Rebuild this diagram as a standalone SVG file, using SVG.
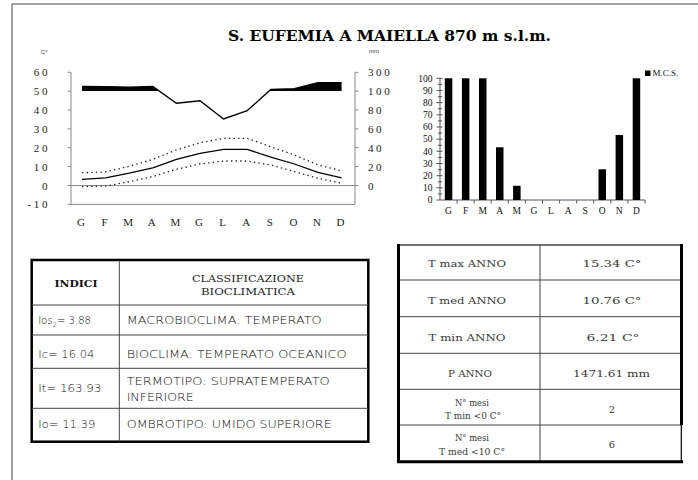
<svg xmlns="http://www.w3.org/2000/svg" width="698" height="480" viewBox="0 0 698 480">
<defs>
<style>
.ax{stroke:#8a8a8a;stroke-width:1;fill:none}
.tk{stroke:#8a8a8a;stroke-width:1}
.num{font-family:"Liberation Serif",serif;font-size:11px;fill:#222;letter-spacing:2.6px}
.mon{font-family:"Liberation Serif",serif;font-size:11px;fill:#222}
.bnum{font-family:"Liberation Serif",serif;font-size:9.5px;fill:#111;text-anchor:end}
.bmon{font-family:"Liberation Serif",serif;font-size:9.5px;fill:#111;text-anchor:middle}
.cell{font-family:"DejaVu Sans",sans-serif;font-weight:200;font-size:10px;fill:#111}
.cell2{font-family:"DejaVu Serif",serif;font-size:10px;fill:#3a3a3a;text-anchor:middle}
.hd{font-family:"DejaVu Serif",serif;font-size:9px;fill:#222;text-anchor:middle}
.tl{stroke:#444;stroke-width:1}
.dot{fill:none;stroke:#222;stroke-width:1.3;stroke-dasharray:1.4 3.2}
</style>
<clipPath id="above100"><rect x="60" y="60" width="300" height="31"/></clipPath>
</defs>

<path d="M12,480 V4 H698" fill="none" stroke="#444" stroke-width="1"/>

<g id="title">
<text x="228" y="41" font-family="DejaVu Serif,serif" font-weight="bold" font-size="15.5" textLength="323" lengthAdjust="spacingAndGlyphs" fill="#000">S. EUFEMIA A MAIELLA 870 m s.l.m.</text>
</g>

<g id="chart-climate">
<text x="41" y="54" font-family="Liberation Sans,sans-serif" font-size="6" fill="#333">C°</text>
<text x="369" y="53" font-family="Liberation Sans,sans-serif" font-size="6" fill="#333">mm</text>
<path class="ax" d="M71,72.3 V204.4 H355 V72.3"/>
<line class="ax" x1="71" y1="185.5" x2="355" y2="185.5"/>
<g class="tk">
<line x1="67.5" y1="72.3" x2="71" y2="72.3"/><line x1="67.5" y1="91.2" x2="71" y2="91.2"/><line x1="67.5" y1="110" x2="71" y2="110"/><line x1="67.5" y1="128.9" x2="71" y2="128.9"/><line x1="67.5" y1="147.7" x2="71" y2="147.7"/><line x1="67.5" y1="166.6" x2="71" y2="166.6"/><line x1="67.5" y1="185.5" x2="71" y2="185.5"/><line x1="67.5" y1="204.4" x2="71" y2="204.4"/>
<line x1="355" y1="72.3" x2="358.5" y2="72.3"/><line x1="355" y1="91.2" x2="358.5" y2="91.2"/><line x1="355" y1="110" x2="358.5" y2="110"/><line x1="355" y1="128.9" x2="358.5" y2="128.9"/><line x1="355" y1="147.7" x2="358.5" y2="147.7"/><line x1="355" y1="166.6" x2="358.5" y2="166.6"/><line x1="355" y1="185.5" x2="358.5" y2="185.5"/>
</g>
<g class="num" text-anchor="end">
<text x="50" y="76.3">60</text><text x="50" y="95.2">50</text><text x="50" y="114">40</text><text x="50" y="132.9">30</text><text x="50" y="151.7">20</text><text x="50" y="170.6">10</text><text x="50" y="189.5">0</text><text x="50" y="208.4">-10</text>
</g>
<g class="num">
<text x="368" y="76.3">300</text><text x="368" y="95.2">100</text><text x="368" y="114">80</text><text x="368" y="132.9">60</text><text x="368" y="151.7">40</text><text x="368" y="170.6">20</text><text x="368" y="189.5">0</text>
</g>
<g class="mon" text-anchor="middle">
<text x="81" y="225.5">G</text><text x="104.6" y="225.5">F</text><text x="128.2" y="225.5">M</text><text x="151.8" y="225.5">A</text><text x="175.4" y="225.5">M</text><text x="199" y="225.5">G</text><text x="222.6" y="225.5">L</text><text x="246.2" y="225.5">A</text><text x="269.8" y="225.5">S</text><text x="293.4" y="225.5">O</text><text x="317" y="225.5">N</text><text x="340.6" y="225.5">D</text>
</g>
<polygon clip-path="url(#above100)" fill="#000" points="82,86.5 105.6,86.6 129.2,87.2 152.8,86.4 176.4,103.3 200,100.7 223.6,119 247.2,110.7 270.8,89.5 294.4,88.8 318,82.6 341.6,82.6 341.6,91 82,91"/>
<polyline fill="none" stroke="#000" stroke-width="1.4" points="82,86.5 105.6,86.6 129.2,87.2 152.8,86.4 176.4,103.3 200,100.7 223.6,119 247.2,110.7 270.8,89.5 294.4,88.8 318,82.6 341.6,82.6"/>
<polyline fill="none" stroke="#000" stroke-width="1.3" points="82,179.3 105.6,177.8 129.2,173.2 152.8,167.8 176.4,159.3 200,153.4 223.6,149.3 247.2,149.3 270.8,157.2 294.4,164 318,172.3 341.6,177.8"/>
<polyline class="dot" points="82,172.7 105.6,171.9 129.2,166.3 152.8,159.3 176.4,150 200,142.7 223.6,138.4 247.2,138.4 270.8,146.7 294.4,155 318,165 341.6,170.8"/>
<polyline class="dot" points="82,186.6 105.6,186.1 129.2,181.7 152.8,176.6 176.4,169.3 200,164 223.6,161 247.2,161 270.8,165 294.4,171.7 318,178.3 341.6,183.2"/>
</g>

<g id="chart-mcs">
<line x1="440" y1="78.3" x2="440" y2="200" stroke="#555" stroke-width="1"/>
<line x1="440" y1="200" x2="645" y2="200" stroke="#555" stroke-width="1"/>
<g stroke="#555" stroke-width="1">
<line x1="436.5" y1="78.3" x2="442.5" y2="78.3"/><line x1="436.5" y1="90.5" x2="442.5" y2="90.5"/><line x1="436.5" y1="102.6" x2="442.5" y2="102.6"/><line x1="436.5" y1="114.8" x2="442.5" y2="114.8"/><line x1="436.5" y1="127" x2="442.5" y2="127"/><line x1="436.5" y1="139.2" x2="442.5" y2="139.2"/><line x1="436.5" y1="151.3" x2="442.5" y2="151.3"/><line x1="436.5" y1="163.5" x2="442.5" y2="163.5"/><line x1="436.5" y1="175.7" x2="442.5" y2="175.7"/><line x1="436.5" y1="187.8" x2="442.5" y2="187.8"/><line x1="436.5" y1="200" x2="440" y2="200"/>
<line x1="438" y1="84.4" x2="442" y2="84.4"/><line x1="438" y1="96.6" x2="442" y2="96.6"/><line x1="438" y1="108.7" x2="442" y2="108.7"/><line x1="438" y1="120.9" x2="442" y2="120.9"/><line x1="438" y1="133.1" x2="442" y2="133.1"/><line x1="438" y1="145.3" x2="442" y2="145.3"/><line x1="438" y1="157.4" x2="442" y2="157.4"/><line x1="438" y1="169.6" x2="442" y2="169.6"/><line x1="438" y1="181.8" x2="442" y2="181.8"/><line x1="438" y1="193.9" x2="442" y2="193.9"/>
<line x1="457.1" y1="200" x2="457.1" y2="203.5"/><line x1="474.2" y1="200" x2="474.2" y2="203.5"/><line x1="491.2" y1="200" x2="491.2" y2="203.5"/><line x1="508.3" y1="200" x2="508.3" y2="203.5"/><line x1="525.4" y1="200" x2="525.4" y2="203.5"/><line x1="542.5" y1="200" x2="542.5" y2="203.5"/><line x1="559.6" y1="200" x2="559.6" y2="203.5"/><line x1="576.7" y1="200" x2="576.7" y2="203.5"/><line x1="593.7" y1="200" x2="593.7" y2="203.5"/><line x1="610.8" y1="200" x2="610.8" y2="203.5"/><line x1="627.9" y1="200" x2="627.9" y2="203.5"/><line x1="645" y1="200" x2="645" y2="203.5"/>
</g>
<g class="bnum">
<text x="432.5" y="81.5">100</text><text x="432.5" y="93.7">90</text><text x="432.5" y="105.8">80</text><text x="432.5" y="118">70</text><text x="432.5" y="130.2">60</text><text x="432.5" y="142.4">50</text><text x="432.5" y="154.5">40</text><text x="432.5" y="166.7">30</text><text x="432.5" y="178.9">20</text><text x="432.5" y="191">10</text><text x="432.5" y="203.2">0</text>
</g>
<g fill="#000">
<rect x="444.8" y="78.3" width="7.5" height="121.7"/>
<rect x="461.9" y="78.3" width="7.5" height="121.7"/>
<rect x="479" y="78.3" width="7.5" height="121.7"/>
<rect x="496" y="147.3" width="7.5" height="52.7"/>
<rect x="513.1" y="185.8" width="7.5" height="14.2"/>
<rect x="598.5" y="169.3" width="7.5" height="30.7"/>
<rect x="615.6" y="135" width="7.5" height="65"/>
<rect x="632.7" y="78.3" width="7.5" height="121.7"/>
</g>
<g class="bmon">
<text x="448.5" y="214">G</text><text x="465.6" y="214">F</text><text x="482.7" y="214">M</text><text x="499.8" y="214">A</text><text x="516.8" y="214">M</text><text x="533.9" y="214">G</text><text x="551" y="214">L</text><text x="568.1" y="214">A</text><text x="585.2" y="214">S</text><text x="602.2" y="214">O</text><text x="619.3" y="214">N</text><text x="636.4" y="214">D</text>
</g>
<rect x="645" y="70.5" width="5.5" height="5.5" fill="#000"/>
<text x="652.5" y="76" font-family="Liberation Serif,serif" font-size="9" fill="#111">M.C.S.</text>
</g>

<g id="table-indici">
<rect x="31.7" y="260" width="336.6" height="181.7" fill="none" stroke="#000" stroke-width="2.5"/>
<g class="tl">
<line x1="119.3" y1="260" x2="119.3" y2="441.7"/>
<line x1="31.7" y1="305" x2="368.3" y2="305"/>
<line x1="31.7" y1="335" x2="368.3" y2="335"/>
<line x1="31.7" y1="368.3" x2="368.3" y2="368.3"/>
<line x1="31.7" y1="408.3" x2="368.3" y2="408.3"/>
</g>
<text x="76" y="287" font-family="DejaVu Serif,serif" font-weight="bold" font-size="9.5" text-anchor="middle" textLength="43" lengthAdjust="spacingAndGlyphs" fill="#111">INDICI</text>
<text class="hd" x="248" y="281.5" textLength="112" lengthAdjust="spacingAndGlyphs">CLASSIFICAZIONE</text>
<text class="hd" x="248" y="295" textLength="94" lengthAdjust="spacingAndGlyphs">BIOCLIMATICA</text>
<text class="cell" x="38.3" y="324">Ios<tspan dy="2.5" font-size="7">2</tspan><tspan dy="-2.5">= 3.88</tspan></text>
<text class="cell" x="38.3" y="357.5" textLength="56" lengthAdjust="spacingAndGlyphs">Ic= 16.04</text>
<text class="cell" x="38.3" y="392" textLength="63" lengthAdjust="spacingAndGlyphs">It= 163.93</text>
<text class="cell" x="38.3" y="428" textLength="57" lengthAdjust="spacingAndGlyphs">Io= 11.39</text>
<text class="cell" x="126.7" y="324" textLength="195" lengthAdjust="spacingAndGlyphs">MACROBIOCLIMA: TEMPERATO</text>
<text class="cell" x="126.7" y="357.5" textLength="220" lengthAdjust="spacingAndGlyphs">BIOCLIMA: TEMPERATO OCEANICO</text>
<text class="cell" x="126.7" y="384.5" textLength="203" lengthAdjust="spacingAndGlyphs">TERMOTIPO: SUPRATEMPERATO</text>
<text class="cell" x="126.7" y="401" textLength="67" lengthAdjust="spacingAndGlyphs">INFERIORE</text>
<text class="cell" x="126.7" y="428" textLength="205" lengthAdjust="spacingAndGlyphs">OMBROTIPO: UMIDO SUPERIORE</text>
</g>

<g id="table-annual">
<line x1="398" y1="245" x2="682" y2="245" stroke="#444" stroke-width="1.5"/>
<g class="tl">
<line x1="540" y1="245" x2="540" y2="461.7"/>
<line x1="398" y1="280" x2="682" y2="280"/>
<line x1="398" y1="316.7" x2="682" y2="316.7"/>
<line x1="398" y1="353.3" x2="682" y2="353.3"/>
<line x1="398" y1="389.3" x2="682" y2="389.3"/>
<line x1="398" y1="425" x2="682" y2="425"/>
</g>
<line x1="398.5" y1="244" x2="398.5" y2="463" stroke="#000" stroke-width="3"/>
<line x1="681.5" y1="244" x2="681.5" y2="425" stroke="#000" stroke-width="3"/>
<line x1="681.3" y1="425" x2="681.3" y2="461.7" stroke="#000" stroke-width="1.2"/>
<line x1="397" y1="461.7" x2="683" y2="461.7" stroke="#000" stroke-width="3"/>
<text class="cell2" x="467" y="267" textLength="78" lengthAdjust="spacingAndGlyphs">T max ANNO</text>
<text class="cell2" x="467" y="304" textLength="78" lengthAdjust="spacingAndGlyphs">T med ANNO</text>
<text class="cell2" x="467" y="340.5" textLength="77" lengthAdjust="spacingAndGlyphs">T min ANNO</text>
<text class="cell2" x="470" y="377" textLength="44" lengthAdjust="spacingAndGlyphs">P ANNO</text>
<text class="cell2" x="472" y="405.5" textLength="34" lengthAdjust="spacingAndGlyphs">N° mesi</text>
<text class="cell2" x="473" y="419" textLength="56" lengthAdjust="spacingAndGlyphs">T min &lt;0 C°</text>
<text class="cell2" x="472" y="441" textLength="34" lengthAdjust="spacingAndGlyphs">N° mesi</text>
<text class="cell2" x="472" y="455" textLength="66" lengthAdjust="spacingAndGlyphs">T med &lt;10 C°</text>
<text class="cell2" x="612" y="267" textLength="59" lengthAdjust="spacingAndGlyphs">15.34 C°</text>
<text class="cell2" x="612" y="304" textLength="59" lengthAdjust="spacingAndGlyphs">10.76 C°</text>
<text class="cell2" x="613" y="340.5" textLength="53" lengthAdjust="spacingAndGlyphs">6.21 C°</text>
<text class="cell2" x="611.5" y="377" textLength="77" lengthAdjust="spacingAndGlyphs">1471.61 mm</text>
<text class="cell2" x="612" y="413">2</text>
<text class="cell2" x="612" y="448">6</text>
</g>
</svg>
